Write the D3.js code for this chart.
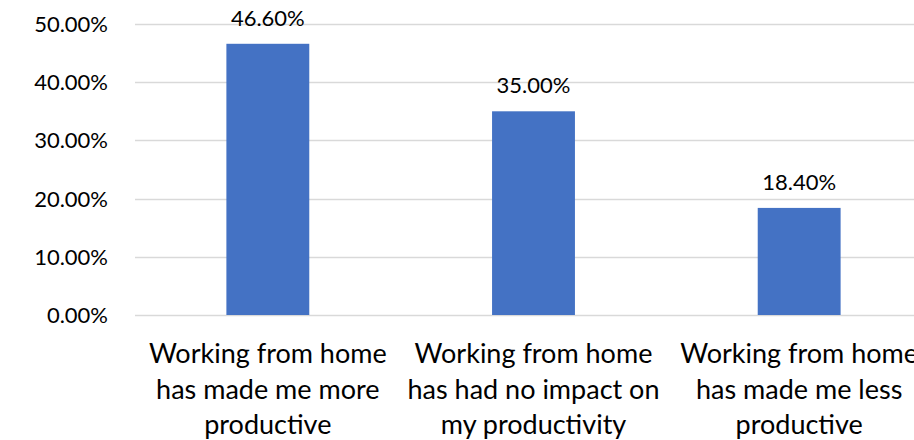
<!DOCTYPE html>
<html>
<head>
<meta charset="utf-8">
<script src="https://cdn.jsdelivr.net/npm/d3@7"></script>
<style>
  html, body { margin: 0; padding: 0; background: #fff; overflow: hidden; }
  text { font-family: Lato, "Open Sans", sans-serif; fill: #000; }
</style>
</head>
<body>
<svg id="chart" width="914" height="440"></svg>
<script>
// Survey responses: effect of working from home on productivity
const categories = [
  ["Working from home", "has made me more", "productive"],
  ["Working from home", "has had no impact on", "my productivity"],
  ["Working from home", "has made me less", "productive"]
];
const values = [0.466, 0.35, 0.184];
const yTicks = [0, 0.1, 0.2, 0.3, 0.4, 0.5];

const svg = d3.select("#chart");
const margin = { left: 135, right: -18, top: 24, bottom: 125 };
const W = 914, H = 440;

const x = d3.scaleBand()
  .domain(d3.range(values.length))
  .range([margin.left, W - margin.right])
  .paddingInner(0.688)
  .paddingOuter(0.344);

const y = d3.scaleLinear()
  .domain([0, 0.5])
  .range([H - margin.bottom, margin.top]);

const fmt = d3.format(".2%");

// gridlines
svg.append("g")
  .selectAll("line")
  .data(yTicks)
  .join("line")
  .attr("x1", margin.left)
  .attr("x2", W - margin.right)
  .attr("y1", d => Math.round(y(d)) + 0.5)
  .attr("y2", d => Math.round(y(d)) + 0.5)
  .attr("stroke", "#d9d9d9")
  .attr("stroke-width", 1.3);

// y-axis labels
svg.append("g")
  .selectAll("text")
  .data(yTicks)
  .join("text")
  .attr("x", 108)
  .attr("y", d => y(d))
  .attr("dy", "0.36em")
  .attr("text-anchor", "end")
  .attr("font-size", 22)
  .text(d => fmt(d));

// bars
svg.append("g")
  .selectAll("rect")
  .data(values)
  .join("rect")
  .attr("x", (d, i) => x(i))
  .attr("width", x.bandwidth())
  .attr("y", d => y(d))
  .attr("height", d => y(0) - y(d))
  .attr("fill", "#4472c4");

// value labels
svg.append("g")
  .selectAll("text")
  .data(values)
  .join("text")
  .attr("x", (d, i) => x(i) + x.bandwidth() / 2)
  .attr("y", d => y(d) - 18)
  .attr("text-anchor", "middle")
  .attr("font-size", 22)
  .text(d => fmt(d));

// category labels
const cat = svg.append("g")
  .selectAll("text")
  .data(categories)
  .join("text")
  .attr("x", (d, i) => x(i) + x.bandwidth() / 2)
  .attr("y", 363)
  .attr("text-anchor", "middle")
  .attr("font-size", 27);
cat.selectAll("tspan")
  .data(d => d)
  .join("tspan")
  .attr("x", function () { return this.parentNode.getAttribute("x"); })
  .attr("dy", (d, i) => i === 0 ? 0 : 35.5)
  .text(d => d);
</script>
</body>
</html>
